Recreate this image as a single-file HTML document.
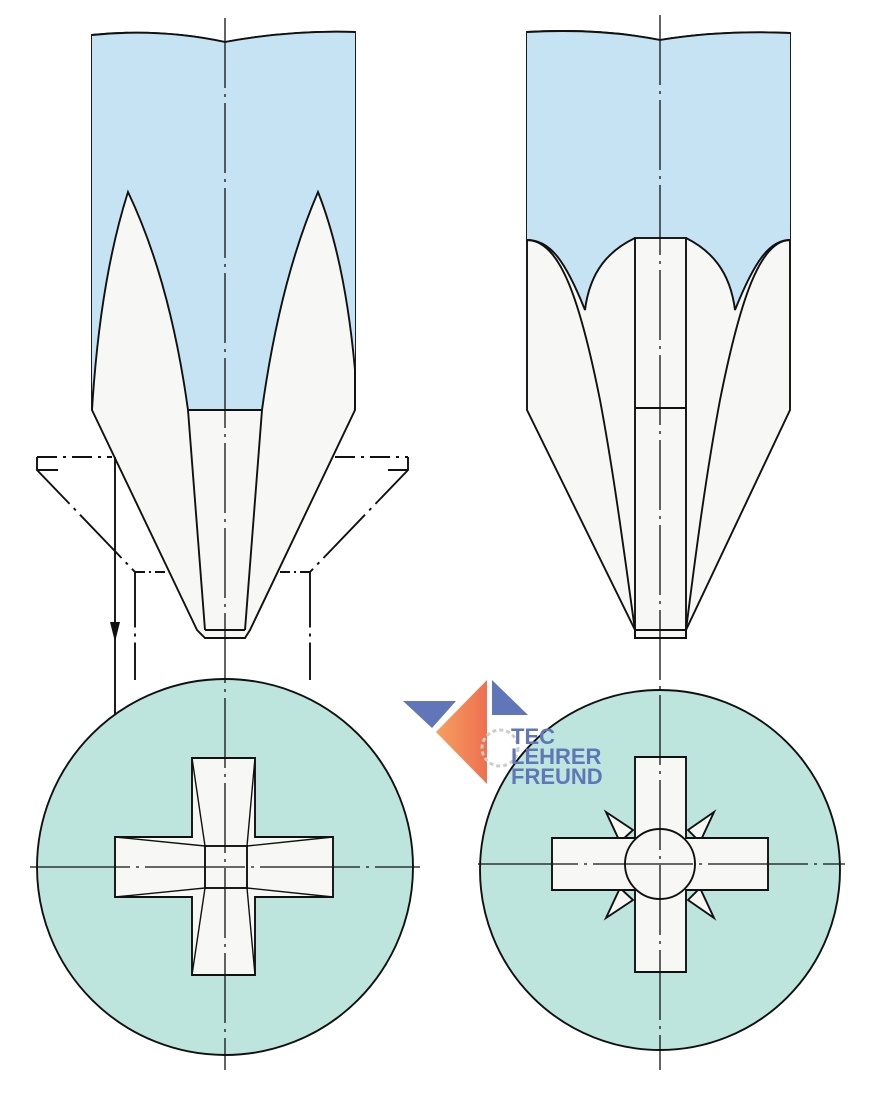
<!DOCTYPE html>
<html><head><style>html,body{margin:0;padding:0;background:#fff}svg{display:block}</style></head><body>
<svg width="880" height="1094" viewBox="0 0 880 1094" xmlns="http://www.w3.org/2000/svg" font-family="Liberation Sans, sans-serif">
<g stroke="#111" stroke-width="1.9" fill="none">
<!-- LEFT TOOL -->
<path d="M92,35 Q160,28 225,42 Q290,30 355,32 L355,410 L250,630 L245,638 L205,638 L197,630 L92,410 Z" fill="#f7f7f5"/>
<path d="M92,35 Q160,28 225,42 Q290,30 355,32 L355,370 Q345,260 318,192 Q280,280 262,410 L188,410 Q170,280 128,192 Q100,280 92,395 Z" fill="#c5e3f3" stroke="none"/>
<path d="M92,35 Q160,28 225,42 Q290,30 355,32"/>
<path d="M92,410 Q100,280 128,192 Q170,280 188,410 L205,630"/>
<path d="M355,410 L355,370 Q345,260 318,192 Q280,280 262,410 L245,630"/>
<line x1="188" y1="410" x2="262" y2="410"/>
<line x1="205" y1="630" x2="245" y2="630"/>
<!-- countersink -->
<path d="M37,457 L37,470 L135,572 L135,680" stroke-dasharray="60,6,3,6"/>
<path d="M408,457 L408,470 L310,572 L310,680" stroke-dasharray="60,6,3,6"/>
<line x1="37" y1="457" x2="112" y2="457" stroke-dasharray="20,6,3,6"/>
<line x1="335" y1="457" x2="408" y2="457" stroke-dasharray="20,6,3,6"/>
<line x1="37" y1="470" x2="58" y2="470"/><line x1="388" y1="470" x2="408" y2="470"/>
<line x1="135" y1="572" x2="165" y2="572" stroke-dasharray="10,4,2,4"/>
<line x1="280" y1="572" x2="310" y2="572" stroke-dasharray="10,4,2,4"/>
<line x1="115" y1="457" x2="115" y2="840"/>
<!-- left circle -->
<circle cx="225" cy="867" r="188" fill="#bde5dd"/>
<path d="M192,758 L255,758 L255,837 L333,837 L333,897 L255,897 L255,975 L192,975 L192,897 L115,897 L115,837 L192,837 Z" fill="#f7f7f5"/>
<rect x="205" y="846" width="42" height="42"/>
<path d="M192,758 L205,846 M255,758 L247,846 M192,975 L205,888 M255,975 L247,888 M115,837 L205,846 M333,837 L247,846 M115,897 L205,888 M333,897 L247,888" stroke-width="1.4"/>
<!-- RIGHT TOOL -->
<path d="M527,32 Q600,28 660,40 Q720,30 790,33 L790,410 L686,630 L686,638 L635,638 L635,630 L527,410 Z" fill="#f7f7f5"/>
<path d="M527,32 Q600,28 660,40 Q720,30 790,33 L790,240 C770,240 755,260 735,310 C730,270 710,250 686,238 L635,238 C610,250 590,270 585,310 C565,260 550,240 527,240 Z" fill="#c5e3f3" stroke="none"/>
<path d="M527,32 Q600,28 660,40 Q720,30 790,33"/>
<path d="M527,240 C550,240 565,260 585,310 C590,270 610,250 635,238"/>
<path d="M790,240 C770,240 755,260 735,310 C730,270 710,250 686,238"/>
<path d="M527,240 C560,240 580,300 600,400 C615,480 625,560 635,630"/>
<path d="M790,240 C760,240 740,300 720,400 C705,480 695,560 686,630"/>
<rect x="635" y="238" width="51" height="400"/>
<line x1="635" y1="408" x2="686" y2="408"/>
<line x1="635" y1="630" x2="686" y2="630"/>
<!-- right circle -->
<circle cx="660" cy="870" r="180" fill="#bde5dd"/>
<path d="M606,812 L633,830 L620,842 Z M714,812 L688,830 L700,842 Z M606,918 L633,900 L620,888 Z M714,918 L688,900 L700,888 Z" fill="#f7f7f5"/>
<path d="M635,757 L686,757 L686,838 L768,838 L768,890 L686,890 L686,972 L635,972 L635,890 L552,890 L552,838 L635,838 Z" fill="#f7f7f5"/>
<circle cx="660" cy="864" r="35" fill="#f7f7f5"/>
<!-- centerlines -->
<line x1="225" y1="18" x2="225" y2="1070" stroke-width="1.3" stroke-dasharray="70,6,3,6"/>
<line x1="660" y1="15" x2="660" y2="1070" stroke-width="1.3" stroke-dasharray="70,6,3,6"/>
<line x1="30" y1="867" x2="420" y2="867" stroke-width="1.3" stroke-dasharray="100,6,3,6"/>
<line x1="478" y1="864" x2="845" y2="864" stroke-width="1.3" stroke-dasharray="100,6,3,6"/>
</g>
<path d="M110,622 L120,622 L115,642 Z" fill="#111"/>
<!-- logo -->
<defs><linearGradient id="g" x1="0" y1="0" x2="1" y2="0"><stop offset="0" stop-color="#f6a060"/><stop offset="1" stop-color="#ee7050"/></linearGradient></defs>
<path d="M403,701 L456,701 L432,728 Z" fill="#6176b8"/>
<path d="M487,680 L487,784 L436,732 Z" fill="url(#g)"/>
<path d="M492,680 L492,715 L528,715 Z" fill="#6176b8"/>
<circle cx="500" cy="748" r="18" fill="none" stroke="#ccc" stroke-width="3" stroke-dasharray="4,3"/>
<g fill="#5f77b8" font-weight="bold" font-size="22">
<text x="511" y="744">TEC</text><text x="511" y="764">LEHRER</text><text x="511" y="784">FREUND</text>
</g>
</svg>
</body></html>
